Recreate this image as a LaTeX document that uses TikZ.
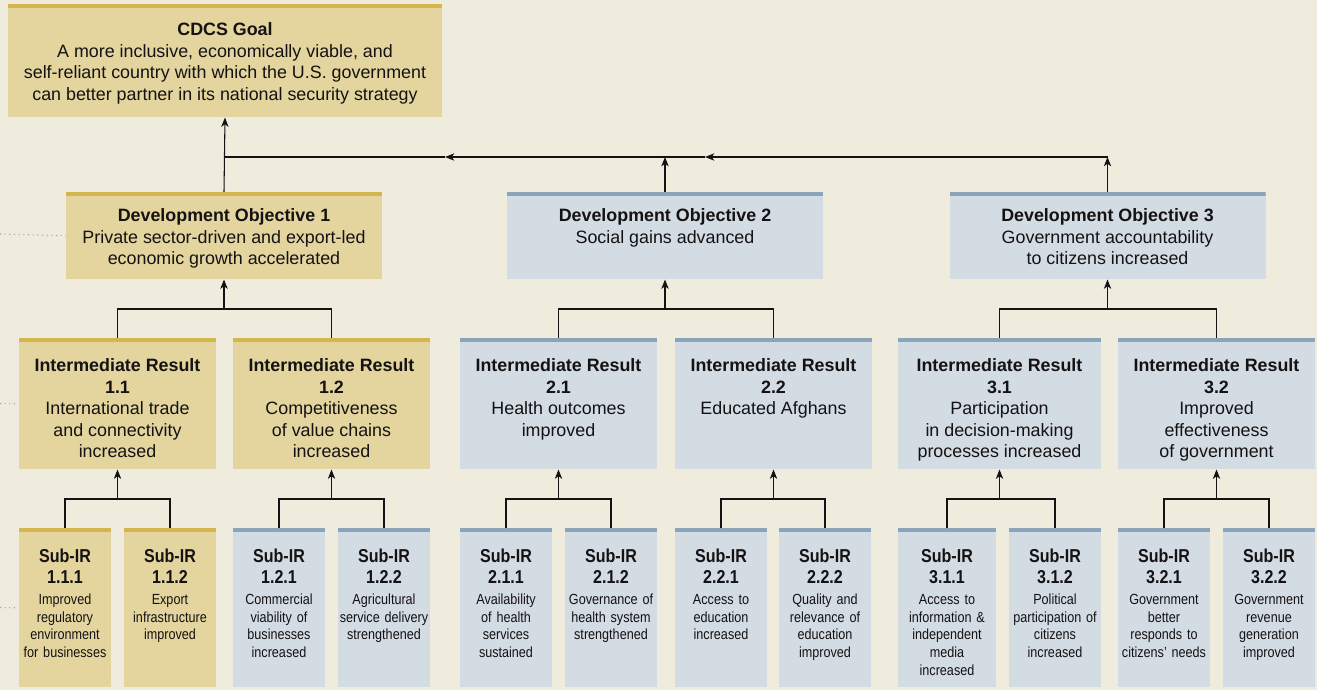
\documentclass[tikz,border=0pt]{standalone}
\usepackage{fontspec}
\setmainfont{Liberation Sans}
\newfontfamily\narrowfont{Liberation Sans}[FakeStretch=0.86]
\usetikzlibrary{positioning}
\usetikzlibrary{arrows.meta}

\definecolor{bgcol}{HTML}{EFEBDD}
\definecolor{goldfill}{HTML}{E4D59E}
\definecolor{goldbar}{HTML}{D4B54E}
\definecolor{bluefill}{HTML}{D3DCE3}
\definecolor{bluebar}{HTML}{8AA5B9}
\definecolor{inkcol}{HTML}{141213}

\newcommand{\subhead}[1]{{\fontsize{14}{15.75}\selectfont\bfseries Sub-IR\\#1\par}\vspace{2.4pt}}

\tikzset{
  barbox/.style 2 args={fill=#1, draw=none, inner sep=0pt, anchor=north,
    path picture={\fill[#2] (path picture bounding box.north west) rectangle ([yshift=-2.6pt]path picture bounding box.north east);}},
  goldbox/.style={barbox={goldfill}{goldbar}},
  bluebox/.style={barbox={bluefill}{bluebar}},
  goalsize/.style={minimum width=325.5pt, minimum height=84.75pt},
  dosize/.style={minimum width=237pt, minimum height=65.25pt},
  irsize/.style={minimum width=147.75pt, minimum height=98.25pt},
  subsize/.style={minimum width=69pt, minimum height=119.25pt},
  bigtext/.style={align=center, inner sep=0pt, text=inkcol, font=\fontsize{13.4}{16.1}\selectfont},
  subtext/.style={align=center, inner sep=0pt, text=inkcol, text width=69pt, font=\fontsize{11}{13.3}\narrowfont},
  link/.style={draw=inkcol, line width=0.8pt},
  arr/.style={link, -{Stealth[length=7pt, width=5.5pt, inset=2pt]}},
  leader/.style={draw=bluebar, line width=0.8pt, dash pattern=on 0.8pt off 2.7pt}
}

\begin{document}
\begin{tikzpicture}[x=0.75pt, y=-0.75pt]
  \useasboundingbox[fill=bgcol] (0,0) rectangle (1317,690);

  %% goal
  \node[goldbox, goalsize] (goal) at (225,4) {};
  \node[bigtext, below=14pt of goal.north] (goalt) {\textbf{CDCS Goal}\\A more inclusive, economically viable, and\\self-reliant country with which the U.S. government\\can better partner in its national security strategy};

  %% development objectives
  \node[goldbox, dosize] (do1) at (224,192) {};
  \node[bigtext, below=12.5pt of do1.north] (do1t) {\textbf{Development Objective 1}\\Private sector-driven and export-led\\economic growth accelerated};
  \node[bluebox, dosize] (do2) at (665,192) {};
  \node[bigtext, below=12.5pt of do2.north] (do2t) {\textbf{Development Objective 2}\\Social gains advanced};
  \node[bluebox, dosize] (do3) at (1107.5,192) {};
  \node[bigtext, below=12.5pt of do3.north] (do3t) {\textbf{Development Objective 3}\\Government accountability\\to citizens increased};

  %% intermediate results
  \node[goldbox, irsize] (ir11) at (117.5,338) {};
  \node[bigtext, below=15.5pt of ir11.north] (ir11t) {\textbf{Intermediate Result}\\\textbf{1.1}\\International trade\\and connectivity\\increased};
  \node[goldbox, irsize] (ir12) at (331.5,338) {};
  \node[bigtext, below=15.5pt of ir12.north] (ir12t) {\textbf{Intermediate Result}\\\textbf{1.2}\\Competitiveness\\of value chains\\increased};
  \node[bluebox, irsize] (ir21) at (558.5,338) {};
  \node[bigtext, below=15.5pt of ir21.north] (ir21t) {\textbf{Intermediate Result}\\\textbf{2.1}\\Health outcomes\\improved};
  \node[bluebox, irsize] (ir22) at (773.5,338) {};
  \node[bigtext, below=15.5pt of ir22.north] (ir22t) {\textbf{Intermediate Result}\\\textbf{2.2}\\Educated Afghans};
  \node[bluebox, irsize, minimum width=152.25pt] (ir31) at (999.5,338) {};
  \node[bigtext, below=15.5pt of ir31.north] (ir31t) {\textbf{Intermediate Result}\\\textbf{3.1}\\Participation\\in decision-making\\processes increased};
  \node[bluebox, irsize] (ir32) at (1216.5,338) {};
  \node[bigtext, below=15.5pt of ir32.north] (ir32t) {\textbf{Intermediate Result}\\\textbf{3.2}\\Improved\\effectiveness\\of government};

  %% sub-IRs
  \node[goldbox, subsize] (s111) at (65,528) {};
  \node[subtext, below=15.5pt of s111.north] (s111t) {\subhead{1.1.1}Improved\\regulatory\\environment\\for businesses};
  \node[goldbox, subsize] (s112) at (170,528) {};
  \node[subtext, below=15.5pt of s112.north] (s112t) {\subhead{1.1.2}Export\\infrastructure\\improved};
  \node[bluebox, subsize] (s121) at (279,528) {};
  \node[subtext, below=15.5pt of s121.north] (s121t) {\subhead{1.2.1}Commercial\\viability of\\businesses\\increased};
  \node[bluebox, subsize] (s122) at (384,528) {};
  \node[subtext, below=15.5pt of s122.north] (s122t) {\subhead{1.2.2}Agricultural\\service delivery\\strengthened};
  \node[bluebox, subsize] (s211) at (506,528) {};
  \node[subtext, below=15.5pt of s211.north] (s211t) {\subhead{2.1.1}Availability\\of health\\services\\sustained};
  \node[bluebox, subsize] (s212) at (611,528) {};
  \node[subtext, below=15.5pt of s212.north] (s212t) {\subhead{2.1.2}Governance of\\health system\\strengthened};
  \node[bluebox, subsize] (s221) at (721,528) {};
  \node[subtext, below=15.5pt of s221.north] (s221t) {\subhead{2.2.1}Access to\\education\\increased};
  \node[bluebox, subsize] (s222) at (825,528) {};
  \node[subtext, below=15.5pt of s222.north] (s222t) {\subhead{2.2.2}Quality and\\relevance of\\education\\improved};
  \node[bluebox, subsize, minimum width=73.5pt] (s311) at (947,528) {};
  \node[subtext, text width=73.5pt, below=15.5pt of s311.north] (s311t) {\subhead{3.1.1}Access to\\information \&\\independent\\media\\increased};
  \node[bluebox, subsize] (s312) at (1055,528) {};
  \node[subtext, below=15.5pt of s312.north] (s312t) {\subhead{3.1.2}Political\\participation of\\citizens\\increased};
  \node[bluebox, subsize] (s321) at (1164,528) {};
  \node[subtext, below=15.5pt of s321.north] (s321t) {\subhead{3.2.1}Government\\better\\responds to\\citizens’ needs};
  \node[bluebox, subsize] (s322) at (1269,528) {};
  \node[subtext, below=15.5pt of s322.north] (s322t) {\subhead{3.2.2}Government\\revenue\\generation\\improved};

  %% junctions
  \coordinate (hub) at (224,157);
  \coordinate (mid1) at (445,157);
  \coordinate (mid2) at (705,157);
  \coordinate (corner) at (1107.5,157);
  \coordinate (j1) at (224,309);
  \coordinate (j2) at (665,309);
  \coordinate (j3) at (1107.5,309);
  \coordinate (k11) at (117.5,499);
  \coordinate (k12) at (331.5,499);
  \coordinate (k21) at (558.5,499);
  \coordinate (k22) at (773.5,499);
  \coordinate (k31) at (999.5,499);
  \coordinate (k32) at (1216.5,499);

  %% objectives up to the goal
  \draw[arr] (do1.north) -- (goal.south);
  \draw[arr] (do2.north) -- (do2.north |- hub);
  \draw[arr] (do3.north) -- (corner);
  \draw[arr] (corner) -- (mid2);
  \draw[arr] (mid2) -- (mid1);
  \draw[link] (mid1) -- (hub);

  %% results up to objectives
  \draw[link] (ir11.north) |- (j1) -| (ir12.north);
  \draw[arr] (j1) -- (do1.south);
  \draw[link] (ir21.north) |- (j2) -| (ir22.north);
  \draw[arr] (j2) -- (do2.south);
  \draw[link] (ir31.north) |- (j3) -| (ir32.north);
  \draw[arr] (j3) -- (do3.south);

  %% sub-results up to results
  \draw[link] (s111.north) |- (k11) -| (s112.north);
  \draw[arr] (k11) -- (ir11.south);
  \draw[link] (s121.north) |- (k12) -| (s122.north);
  \draw[arr] (k12) -- (ir12.south);
  \draw[link] (s211.north) |- (k21) -| (s212.north);
  \draw[arr] (k21) -- (ir21.south);
  \draw[link] (s221.north) |- (k22) -| (s222.north);
  \draw[arr] (k22) -- (ir22.south);
  \draw[link] (s311.north) |- (k31) -| (s312.north);
  \draw[arr] (k31) -- (ir31.south);
  \draw[link] (s321.north) |- (k32) -| (s322.north);
  \draw[arr] (k32) -- (ir32.south);

  %% dotted leaders on the left
  \coordinate (l1) at (0,234);
  \coordinate (l2) at (0,403.5);
  \coordinate (l3) at (0,607.5);
  \draw[leader] (l1) -- (do1.west);
  \draw[leader, shorten >=2pt] (l2) -- (ir11.west);
  \draw[leader, shorten >=2pt] (l3) -- (s111.west);
\end{tikzpicture}
\end{document}
